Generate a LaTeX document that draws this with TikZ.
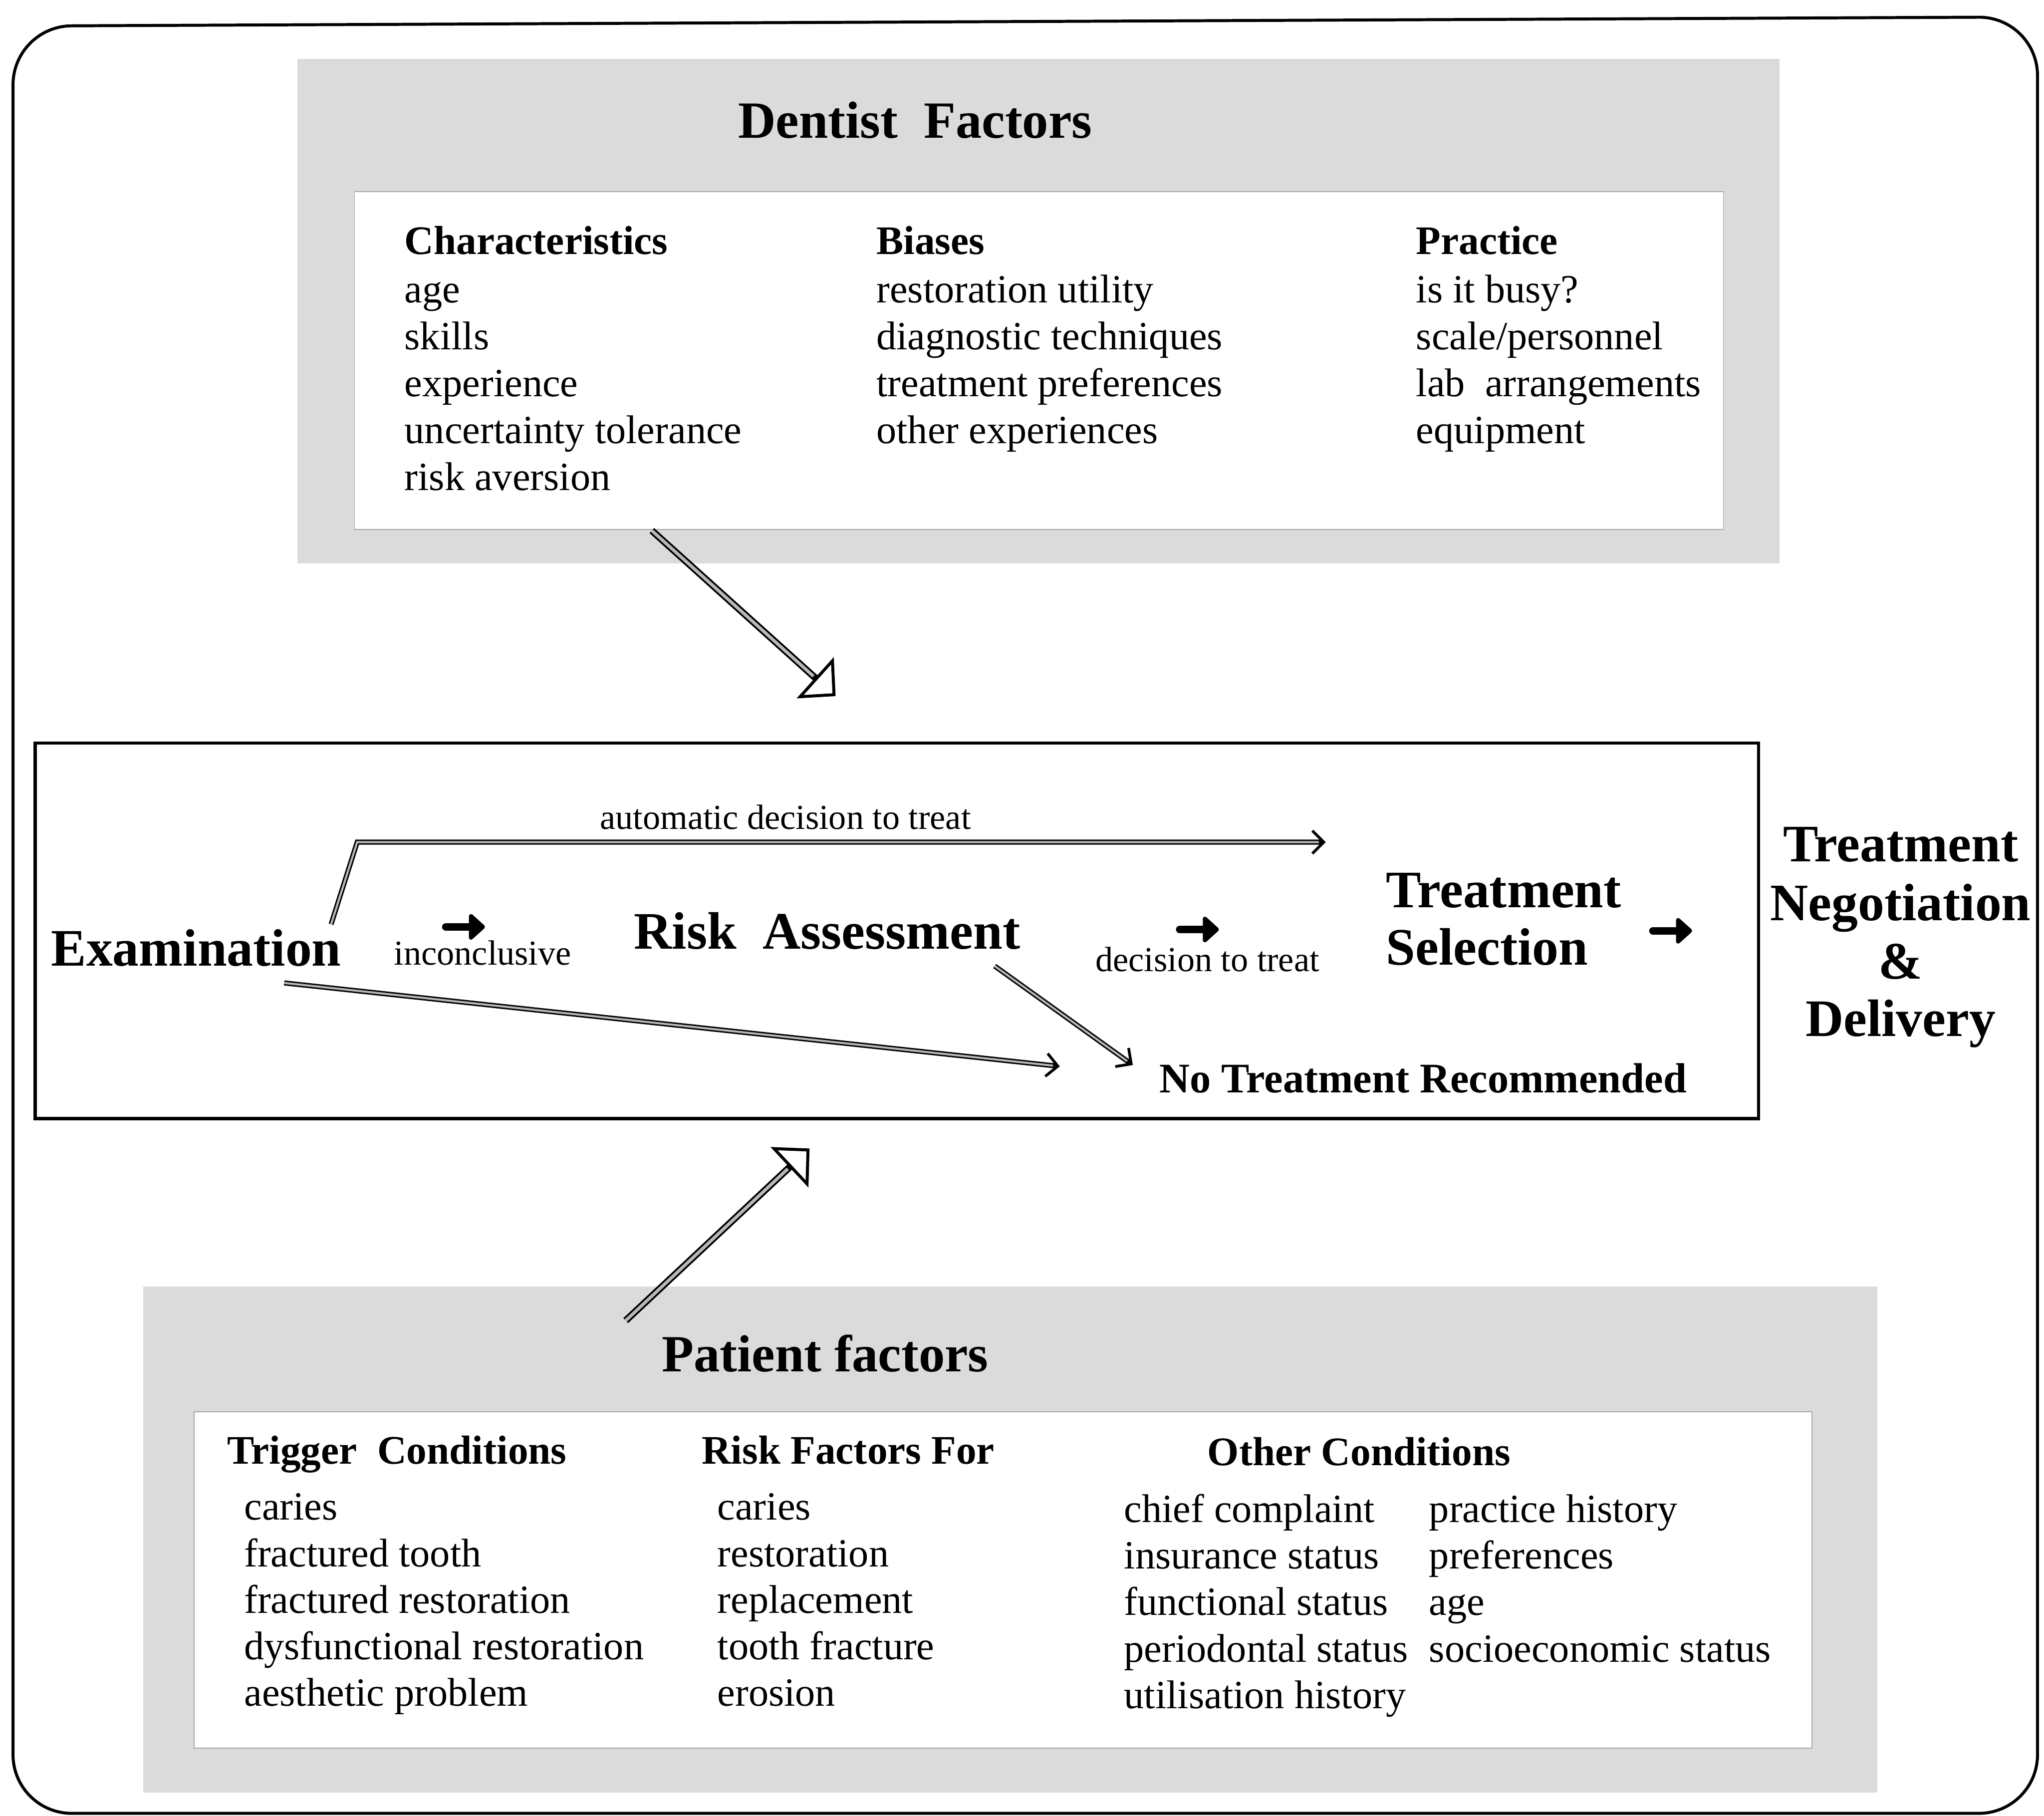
\documentclass[tikz,border=0pt]{standalone}
\usepackage{fontspec}
\setmainfont{Liberation Serif}
\usetikzlibrary{arrows.meta}
\newcommand\fBody{\fontsize{17.5}{20}\selectfont}
\newcommand\fHead{\fontsize{17.7}{20}\selectfont\bfseries}
\newcommand\fTitle{\fontsize{22.8}{26}\selectfont\bfseries}
\newcommand\fBig{\fontsize{23}{26}\selectfont\bfseries}
\newcommand\fSmall{\fontsize{15.3}{18}\selectfont}
\newcommand\fNone{\fontsize{18.4}{21}\selectfont\bfseries}
\begin{document}
\begin{tikzpicture}[x=0.02cm, y=-0.02cm,
  txt/.style={inner sep=0pt, anchor=base west},
  body/.style={txt, font=\fBody},
  colhead/.style={txt, font=\fHead},
  bigtxt/.style={txt, font=\fBig},
  smalltxt/.style={txt, font=\fSmall},
  heavyarrow/.style={line width=3.3pt, line cap=round,
    -{Triangle[length=7.5pt, width=13pt, round]}},
  shadebox/.style={fill=black!14, draw=none},
  panel/.style={fill=white, draw=black!35, line width=0.4pt},
  flow/.style={line width=2.2pt, draw=black,
    -{Straight Barb[length=5pt, width=10pt, line width=1.2pt]},
    postaction={draw=black!28, line width=0.9pt, -, shorten >=3pt}},
  bigflow/.style={line width=3pt, draw=black,
    -{Triangle[open, length=12pt, width=24pt, line width=1.3pt]},
    postaction={draw=black!28, line width=1.4pt, -, shorten >=13pt}}
]
\useasboundingbox (0,0) rectangle (1568,1393);

% outer frame
\draw[line width=1.3pt, rounded corners=0.9cm]
  (10,1391) -- (10,20) -- (1563,13) -- (1563,1391) -- cycle;

% ---------- Dentist factors ----------
\path[shadebox] (228,45) rectangle (1365,432);
\path[panel] (272,147) rectangle (1322,406);
\node[txt, anchor=base, font=\fTitle] (dtitle) at (702,106) {Dentist\ \ Factors};
\node[colhead] (hchar) at (310,195) {Characteristics};
\node[colhead] (hbias) at (672,195) {Biases};
\node[colhead] (hprac) at (1086,195) {Practice};
\foreach \t [count=\i] in {age, skills, experience, uncertainty tolerance, risk aversion}
  \node[body] (ch\i) at (310,196+36*\i) {\t};
\foreach \t [count=\i] in {restoration utility, diagnostic techniques, treatment preferences, other experiences}
  \node[body] (bi\i) at (672,196+36*\i) {\t};
\foreach \t [count=\i] in {is it busy?, scale/personnel, {lab\ \ arrangements}, equipment}
  \node[body] (pr\i) at (1086,196+36*\i) {\t};

% ---------- Patient factors ----------
\path[shadebox] (110,987) rectangle (1440,1375);
\path[panel] (149,1083) rectangle (1390,1341);
\node[txt, anchor=base, font=\fTitle] (ptitle) at (633,1052) {Patient factors};
\node[colhead] (htrig) at (174,1123) {Trigger\ \ Conditions};
\node[colhead] (hrisk) at (538,1123) {Risk Factors For};
\node[colhead] (hother) at (926,1124) {Other Conditions};
\foreach \t [count=\i] in {caries, fractured tooth, fractured restoration, dysfunctional restoration, aesthetic problem}
  \node[body] (tr\i) at (187,1130.3+35.7*\i) {\t};
\foreach \t [count=\i] in {caries, restoration, replacement, tooth fracture, erosion}
  \node[body] (rf\i) at (550,1130.3+35.7*\i) {\t};
\foreach \t [count=\i] in {chief complaint, insurance status, functional status, periodontal status, utilisation history}
  \node[body] (oa\i) at (862,1132+35.7*\i) {\t};
\foreach \t [count=\i] in {practice history, preferences, age, socioeconomic status}
  \node[body] (ob\i) at (1096,1132+35.7*\i) {\t};

% ---------- Decision box ----------
\draw[line width=1.5pt] (27,570) rectangle (1349,858);
\node[bigtxt] (exam) at (39,741) {Examination};
\node[smalltxt] (autolbl) at (460,636) {automatic decision to treat};
\node[smalltxt] (inconc) at (302,740) {inconclusive};
\node[bigtxt] (risk) at (486,728) {Risk\ \ Assessment};
\node[smalltxt] (dtt) at (840,745) {decision to treat};
\node[bigtxt] (ts1) at (1063,696) {Treatment};
\node[bigtxt] (ts2) at (1063,740) {Selection};
\node[txt, font=\fNone] (none) at (889,838) {No Treatment Recommended};

\node[txt, anchor=base, font=\fBig] (tnd1) at (1458,661) {Treatment};
\node[txt, anchor=base, font=\fBig] (tnd2) at (1458,706) {Negotiation};
\node[txt, anchor=base, font=\fBig] (tnd3) at (1458,751) {\&};
\node[txt, anchor=base, font=\fBig] (tnd4) at (1458,795) {Delivery};

% heavy step arrows
\coordinate (s1a) at (342,711);
\coordinate (s1b) at (372,711);
\draw[heavyarrow] (s1a) -- (s1b);
\coordinate (s2a) at (905,713);
\coordinate (s2b) at (935,713);
\draw[heavyarrow] (s2a) -- (s2b);
\coordinate (s3a) at (1268,714);
\coordinate (s3b) at (1298,714);
\draw[heavyarrow] (s3a) -- (s3b);

% connectors inside decision box
\coordinate (autoS) at (254,709);
\coordinate (autoK) at (274,646);
\coordinate (autoE) at (1017,646);
\draw[flow] (autoS) -- (autoK) -- (autoE);
\coordinate (exS) at (218,754);
\coordinate (exE) at (813,818);
\draw[flow] (exS) -- (exE);
\coordinate (rkS) at (763,741);
\coordinate (rkE) at (869,817);
\draw[flow] (rkS) -- (rkE);

% big hollow arrows
\coordinate (dA) at (500,407);
\coordinate (dB) at (641,534);
\draw[bigflow] (dA) -- (dB);
\coordinate (pA) at (480,1013);
\coordinate (pB) at (621,881);
\draw[bigflow] (pA) -- (pB);
\end{tikzpicture}
\end{document}
